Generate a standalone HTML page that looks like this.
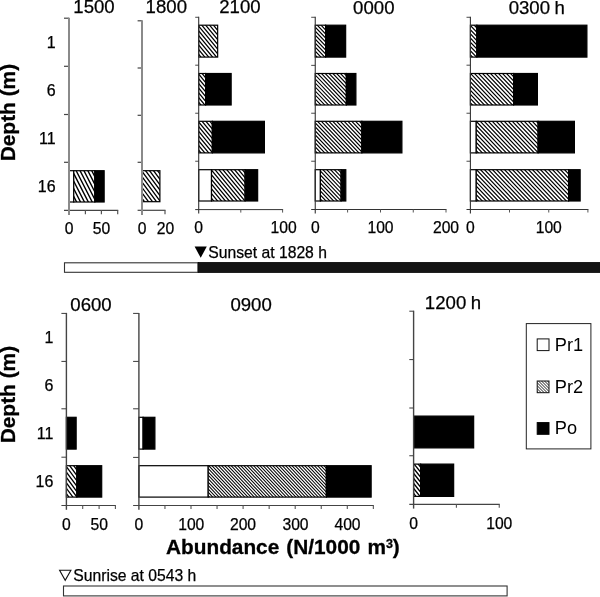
<!DOCTYPE html>
<html><head><meta charset="utf-8"><title>Figure</title>
<style>
html,body{margin:0;padding:0;background:#fff;}
body{width:600px;height:597px;overflow:hidden;}
svg{display:block;will-change:transform;font-family:"Liberation Sans",sans-serif;fill:#000;}
</style></head><body>
<svg width="600" height="597" viewBox="0 0 600 597">
<defs>
<pattern id="p1" patternUnits="userSpaceOnUse" width="3.9" height="7.6"><rect x="0" y="0" width="3.9" height="7.6" fill="#fff"/><path d="M-3.9,-7.6 L7.8,15.2 M0,-7.6 L11.7,15.2 M-7.8,-7.6 L3.9,15.2" stroke="#000" stroke-width="1.388"/></pattern>
<pattern id="p2" patternUnits="userSpaceOnUse" width="4.0" height="5.4"><rect x="0" y="0" width="4.0" height="5.4" fill="#fff"/><path d="M-4.0,-5.4 L8.0,10.8 M0,-5.4 L12.0,10.8 M-8.0,-5.4 L4.0,10.8" stroke="#000" stroke-width="1.318"/></pattern>
<pattern id="p3" patternUnits="userSpaceOnUse" width="3.9" height="4.7"><rect x="0" y="0" width="3.9" height="4.7" fill="#fff"/><path d="M-3.9,-4.7 L7.8,9.4 M0,-4.7 L11.7,9.4 M-7.8,-4.7 L3.9,9.4" stroke="#000" stroke-width="1.261"/></pattern>
<pattern id="p4" patternUnits="userSpaceOnUse" width="3.8" height="4.0"><rect x="0" y="0" width="3.8" height="4.0" fill="#fff"/><path d="M-3.8,-4.0 L7.6,8.0 M0,-4.0 L11.399999999999999,8.0 M-7.6,-4.0 L3.8,8.0" stroke="#000" stroke-width="1.157"/></pattern>
<pattern id="p5" patternUnits="userSpaceOnUse" width="4.0" height="4.2"><rect x="0" y="0" width="4.0" height="4.2" fill="#fff"/><path d="M-4.0,-4.2 L8.0,8.4 M0,-4.2 L12.0,8.4 M-8.0,-4.2 L4.0,8.4" stroke="#000" stroke-width="1.188"/></pattern>
<pattern id="p6" patternUnits="userSpaceOnUse" width="4.0" height="5.4"><rect x="0" y="0" width="4.0" height="5.4" fill="#fff"/><path d="M-4.0,-5.4 L8.0,10.8 M0,-5.4 L12.0,10.8 M-8.0,-5.4 L4.0,10.8" stroke="#000" stroke-width="1.318"/></pattern>
<pattern id="p7" patternUnits="userSpaceOnUse" width="3.2" height="3.4"><rect x="0" y="0" width="3.2" height="3.4" fill="#fff"/><path d="M-3.2,-3.4 L6.4,6.8 M0,-3.4 L9.600000000000001,6.8 M-6.4,-3.4 L3.2,6.8" stroke="#000" stroke-width="1.025"/></pattern>
<pattern id="p8" patternUnits="userSpaceOnUse" width="4.0" height="5.0"><rect x="0" y="0" width="4.0" height="5.0" fill="#fff"/><path d="M-4.0,-5.0 L8.0,10.0 M0,-5.0 L12.0,10.0 M-8.0,-5.0 L4.0,10.0" stroke="#000" stroke-width="1.281"/></pattern>
<pattern id="lg" patternUnits="userSpaceOnUse" width="3.0" height="3.0"><rect x="0" y="0" width="3.0" height="3.0" fill="#fff"/><path d="M-3.0,-3.0 L6.0,6.0 M0,-3.0 L9.0,6.0 M-6.0,-3.0 L3.0,6.0" stroke="#000" stroke-width="0.891"/></pattern>
</defs>
<rect x="0" y="0" width="600" height="597" fill="#fff"/>

<line x1="64.00" y1="18.20" x2="69.00" y2="18.20" stroke="#444" stroke-width="1.2"/>
<line x1="64.00" y1="66.30" x2="69.00" y2="66.30" stroke="#444" stroke-width="1.2"/>
<line x1="64.00" y1="114.50" x2="69.00" y2="114.50" stroke="#444" stroke-width="1.2"/>
<line x1="64.00" y1="162.30" x2="69.00" y2="162.30" stroke="#444" stroke-width="1.2"/>
<line x1="64.00" y1="210.30" x2="118.20" y2="210.30" stroke="#444" stroke-width="1.2"/>
<line x1="85.40" y1="210.30" x2="85.40" y2="214.30" stroke="#555" stroke-width="1.2"/>
<line x1="101.40" y1="210.30" x2="101.40" y2="214.30" stroke="#555" stroke-width="1.2"/>
<line x1="117.70" y1="210.30" x2="117.70" y2="214.30" stroke="#555" stroke-width="1.2"/>
<rect x="69.00" y="170.70" width="4.75" height="31.30" fill="#fff" stroke="#000" stroke-width="1.2"/>
<clipPath id="c1"><rect x="73.75" y="170.70" width="21.10" height="31.30"/></clipPath>
<rect x="73.75" y="170.70" width="21.10" height="31.30" fill="#fff"/>
<path clip-path="url(#c1)" d="M51.74,168.70l18.11,35.30M55.64,168.70l18.11,35.30M59.54,168.70l18.11,35.30M63.44,168.70l18.11,35.30M67.34,168.70l18.11,35.30M71.24,168.70l18.11,35.30M75.14,168.70l18.11,35.30M79.04,168.70l18.11,35.30M82.94,168.70l18.11,35.30M86.84,168.70l18.11,35.30M90.74,168.70l18.11,35.30M94.64,168.70l18.11,35.30M98.54,168.70l18.11,35.30" stroke="#000" stroke-width="1.388" fill="none"/>
<rect x="73.75" y="170.70" width="21.10" height="31.30" fill="none" stroke="#000" stroke-width="1.2"/>
<rect x="94.85" y="170.70" width="9.30" height="31.30" fill="#000" stroke="#000" stroke-width="1.2"/>
<line x1="69.00" y1="17.70" x2="69.00" y2="215.00" stroke="#8a8a8a" stroke-width="2.0"/>
<text x="69.0" y="234.0" font-size="15.7" text-anchor="middle" font-weight="normal" stroke="#000" stroke-width="0.25" >0</text>
<text x="101.5" y="234.0" font-size="15.7" text-anchor="middle" font-weight="normal" stroke="#000" stroke-width="0.25" >50</text>
<text x="94" y="12.6" font-size="18.6" text-anchor="middle" font-weight="normal" stroke="#000" stroke-width="0.25" word-spacing="-0.6">1500</text>
<line x1="137.60" y1="20.80" x2="142.00" y2="20.80" stroke="#444" stroke-width="1.2"/>
<line x1="137.60" y1="68.00" x2="142.00" y2="68.00" stroke="#444" stroke-width="1.2"/>
<line x1="137.60" y1="115.30" x2="142.00" y2="115.30" stroke="#444" stroke-width="1.2"/>
<line x1="137.60" y1="162.30" x2="142.00" y2="162.30" stroke="#444" stroke-width="1.2"/>
<line x1="137.60" y1="210.30" x2="165.50" y2="210.30" stroke="#444" stroke-width="1.2"/>
<line x1="165.00" y1="210.30" x2="165.00" y2="214.30" stroke="#555" stroke-width="1.2"/>
<clipPath id="c2"><rect x="142.00" y="170.70" width="17.90" height="31.00"/></clipPath>
<rect x="142.00" y="170.70" width="17.90" height="31.00" fill="#fff"/>
<path clip-path="url(#c2)" d="M112.07,168.70l25.93,35.00M116.07,168.70l25.93,35.00M120.07,168.70l25.93,35.00M124.07,168.70l25.93,35.00M128.07,168.70l25.93,35.00M132.07,168.70l25.93,35.00M136.07,168.70l25.93,35.00M140.07,168.70l25.93,35.00M144.07,168.70l25.93,35.00M148.07,168.70l25.93,35.00M152.07,168.70l25.93,35.00M156.07,168.70l25.93,35.00M160.07,168.70l25.93,35.00" stroke="#000" stroke-width="1.318" fill="none"/>
<rect x="142.00" y="170.70" width="17.90" height="31.00" fill="none" stroke="#000" stroke-width="1.2"/>
<line x1="142.00" y1="20.30" x2="142.00" y2="215.00" stroke="#8a8a8a" stroke-width="2.0"/>
<text x="142" y="234.0" font-size="15.7" text-anchor="middle" font-weight="normal" stroke="#000" stroke-width="0.25" >0</text>
<text x="165.5" y="234.0" font-size="15.7" text-anchor="middle" font-weight="normal" stroke="#000" stroke-width="0.25" >20</text>
<text x="166.3" y="12.6" font-size="18.6" text-anchor="middle" font-weight="normal" stroke="#000" stroke-width="0.25" word-spacing="-0.6">1800</text>
<line x1="195.20" y1="17.30" x2="198.70" y2="17.30" stroke="#5a5a5a" stroke-width="1.1"/>
<line x1="195.20" y1="65.20" x2="198.70" y2="65.20" stroke="#5a5a5a" stroke-width="1.1"/>
<line x1="195.20" y1="113.25" x2="198.70" y2="113.25" stroke="#5a5a5a" stroke-width="1.1"/>
<line x1="195.20" y1="161.25" x2="198.70" y2="161.25" stroke="#5a5a5a" stroke-width="1.1"/>
<line x1="195.20" y1="209.60" x2="283.10" y2="209.60" stroke="#333" stroke-width="1.0"/>
<line x1="240.80" y1="209.60" x2="240.80" y2="212.60" stroke="#555" stroke-width="1.0"/>
<line x1="282.60" y1="209.60" x2="282.60" y2="212.60" stroke="#555" stroke-width="1.0"/>
<clipPath id="c3"><rect x="198.70" y="25.20" width="18.95" height="31.90"/></clipPath>
<rect x="198.70" y="25.20" width="18.95" height="31.90" fill="#fff"/>
<path clip-path="url(#c3)" d="M165.01,23.20l29.79,35.90M168.91,23.20l29.79,35.90M172.81,23.20l29.79,35.90M176.71,23.20l29.79,35.90M180.61,23.20l29.79,35.90M184.51,23.20l29.79,35.90M188.41,23.20l29.79,35.90M192.31,23.20l29.79,35.90M196.21,23.20l29.79,35.90M200.11,23.20l29.79,35.90M204.01,23.20l29.79,35.90M207.91,23.20l29.79,35.90M211.81,23.20l29.79,35.90M215.71,23.20l29.79,35.90M219.61,23.20l29.79,35.90" stroke="#000" stroke-width="1.261" fill="none"/>
<rect x="198.70" y="25.20" width="18.95" height="31.90" fill="none" stroke="#000" stroke-width="1.2"/>
<clipPath id="c4"><rect x="198.70" y="73.50" width="6.90" height="31.50"/></clipPath>
<rect x="198.70" y="73.50" width="6.90" height="31.50" fill="#fff"/>
<path clip-path="url(#c4)" d="M165.34,71.50l29.46,35.50M169.24,71.50l29.46,35.50M173.14,71.50l29.46,35.50M177.04,71.50l29.46,35.50M180.94,71.50l29.46,35.50M184.84,71.50l29.46,35.50M188.74,71.50l29.46,35.50M192.64,71.50l29.46,35.50M196.54,71.50l29.46,35.50M200.44,71.50l29.46,35.50M204.34,71.50l29.46,35.50M208.24,71.50l29.46,35.50" stroke="#000" stroke-width="1.261" fill="none"/>
<rect x="198.70" y="73.50" width="6.90" height="31.50" fill="none" stroke="#000" stroke-width="1.2"/>
<rect x="205.60" y="73.50" width="25.55" height="31.50" fill="#000" stroke="#000" stroke-width="1.2"/>
<clipPath id="c5"><rect x="198.70" y="121.30" width="13.65" height="31.60"/></clipPath>
<rect x="198.70" y="121.30" width="13.65" height="31.60" fill="#fff"/>
<path clip-path="url(#c5)" d="M165.26,119.30l29.54,35.60M169.16,119.30l29.54,35.60M173.06,119.30l29.54,35.60M176.96,119.30l29.54,35.60M180.86,119.30l29.54,35.60M184.76,119.30l29.54,35.60M188.66,119.30l29.54,35.60M192.56,119.30l29.54,35.60M196.46,119.30l29.54,35.60M200.36,119.30l29.54,35.60M204.26,119.30l29.54,35.60M208.16,119.30l29.54,35.60M212.06,119.30l29.54,35.60M215.96,119.30l29.54,35.60" stroke="#000" stroke-width="1.261" fill="none"/>
<rect x="198.70" y="121.30" width="13.65" height="31.60" fill="none" stroke="#000" stroke-width="1.2"/>
<rect x="212.35" y="121.30" width="52.05" height="31.60" fill="#000" stroke="#000" stroke-width="1.2"/>
<rect x="198.70" y="169.70" width="12.80" height="31.30" fill="#fff" stroke="#000" stroke-width="1.2"/>
<clipPath id="c6"><rect x="211.50" y="169.70" width="33.60" height="31.30"/></clipPath>
<rect x="211.50" y="169.70" width="33.60" height="31.30" fill="#fff"/>
<path clip-path="url(#c6)" d="M178.31,167.70l29.29,35.30M182.21,167.70l29.29,35.30M186.11,167.70l29.29,35.30M190.01,167.70l29.29,35.30M193.91,167.70l29.29,35.30M197.81,167.70l29.29,35.30M201.71,167.70l29.29,35.30M205.61,167.70l29.29,35.30M209.51,167.70l29.29,35.30M213.41,167.70l29.29,35.30M217.31,167.70l29.29,35.30M221.21,167.70l29.29,35.30M225.11,167.70l29.29,35.30M229.01,167.70l29.29,35.30M232.91,167.70l29.29,35.30M236.81,167.70l29.29,35.30M240.71,167.70l29.29,35.30M244.61,167.70l29.29,35.30M248.51,167.70l29.29,35.30" stroke="#000" stroke-width="1.261" fill="none"/>
<rect x="211.50" y="169.70" width="33.60" height="31.30" fill="none" stroke="#000" stroke-width="1.2"/>
<rect x="245.10" y="169.70" width="12.55" height="31.30" fill="#000" stroke="#000" stroke-width="1.2"/>
<line x1="198.70" y1="16.80" x2="198.70" y2="213.60" stroke="#333" stroke-width="1.1"/>
<text x="198.7" y="233.4" font-size="15.7" text-anchor="middle" font-weight="normal" stroke="#000" stroke-width="0.25" >0</text>
<text x="283.6" y="233.4" font-size="15.7" text-anchor="middle" font-weight="normal" stroke="#000" stroke-width="0.25" >100</text>
<text x="239.9" y="13.0" font-size="18.6" text-anchor="middle" font-weight="normal" stroke="#000" stroke-width="0.25" word-spacing="-0.6">2100</text>
<line x1="311.20" y1="17.30" x2="315.25" y2="17.30" stroke="#5a5a5a" stroke-width="1.1"/>
<line x1="311.20" y1="65.40" x2="315.25" y2="65.40" stroke="#5a5a5a" stroke-width="1.1"/>
<line x1="311.20" y1="113.25" x2="315.25" y2="113.25" stroke="#5a5a5a" stroke-width="1.1"/>
<line x1="311.20" y1="161.25" x2="315.25" y2="161.25" stroke="#5a5a5a" stroke-width="1.1"/>
<line x1="311.20" y1="209.50" x2="446.50" y2="209.50" stroke="#333" stroke-width="1.0"/>
<line x1="347.60" y1="209.50" x2="347.60" y2="212.50" stroke="#555" stroke-width="1.0"/>
<line x1="380.50" y1="209.50" x2="380.50" y2="212.50" stroke="#555" stroke-width="1.0"/>
<line x1="413.25" y1="209.50" x2="413.25" y2="212.50" stroke="#555" stroke-width="1.0"/>
<line x1="446.00" y1="209.50" x2="446.00" y2="212.50" stroke="#555" stroke-width="1.0"/>
<clipPath id="c7"><rect x="315.25" y="25.20" width="10.35" height="31.90"/></clipPath>
<rect x="315.25" y="25.20" width="10.35" height="31.90" fill="#fff"/>
<path clip-path="url(#c7)" d="M277.34,23.20l34.11,35.90M281.14,23.20l34.11,35.90M284.94,23.20l34.11,35.90M288.75,23.20l34.11,35.90M292.55,23.20l34.11,35.90M296.35,23.20l34.11,35.90M300.15,23.20l34.11,35.90M303.95,23.20l34.11,35.90M307.75,23.20l34.11,35.90M311.55,23.20l34.11,35.90M315.35,23.20l34.11,35.90M319.15,23.20l34.11,35.90M322.95,23.20l34.11,35.90M326.75,23.20l34.11,35.90" stroke="#000" stroke-width="1.157" fill="none"/>
<rect x="315.25" y="25.20" width="10.35" height="31.90" fill="none" stroke="#000" stroke-width="1.2"/>
<rect x="325.60" y="25.20" width="20.05" height="31.90" fill="#000" stroke="#000" stroke-width="1.2"/>
<clipPath id="c8"><rect x="315.25" y="73.50" width="31.10" height="31.50"/></clipPath>
<rect x="315.25" y="73.50" width="31.10" height="31.50" fill="#fff"/>
<path clip-path="url(#c8)" d="M277.72,71.50l33.73,35.50M281.52,71.50l33.73,35.50M285.32,71.50l33.73,35.50M289.12,71.50l33.73,35.50M292.93,71.50l33.73,35.50M296.73,71.50l33.73,35.50M300.53,71.50l33.73,35.50M304.33,71.50l33.73,35.50M308.13,71.50l33.73,35.50M311.93,71.50l33.73,35.50M315.73,71.50l33.73,35.50M319.53,71.50l33.73,35.50M323.33,71.50l33.73,35.50M327.13,71.50l33.73,35.50M330.93,71.50l33.73,35.50M334.73,71.50l33.73,35.50M338.53,71.50l33.73,35.50M342.33,71.50l33.73,35.50M346.13,71.50l33.73,35.50M349.93,71.50l33.73,35.50" stroke="#000" stroke-width="1.157" fill="none"/>
<rect x="315.25" y="73.50" width="31.10" height="31.50" fill="none" stroke="#000" stroke-width="1.2"/>
<rect x="346.35" y="73.50" width="9.55" height="31.50" fill="#000" stroke="#000" stroke-width="1.2"/>
<clipPath id="c9"><rect x="315.25" y="121.30" width="46.60" height="31.60"/></clipPath>
<rect x="315.25" y="121.30" width="46.60" height="31.60" fill="#fff"/>
<path clip-path="url(#c9)" d="M277.63,119.30l33.82,35.60M281.43,119.30l33.82,35.60M285.23,119.30l33.82,35.60M289.03,119.30l33.82,35.60M292.83,119.30l33.82,35.60M296.63,119.30l33.82,35.60M300.43,119.30l33.82,35.60M304.23,119.30l33.82,35.60M308.03,119.30l33.82,35.60M311.83,119.30l33.82,35.60M315.63,119.30l33.82,35.60M319.43,119.30l33.82,35.60M323.23,119.30l33.82,35.60M327.03,119.30l33.82,35.60M330.83,119.30l33.82,35.60M334.63,119.30l33.82,35.60M338.43,119.30l33.82,35.60M342.23,119.30l33.82,35.60M346.03,119.30l33.82,35.60M349.83,119.30l33.82,35.60M353.63,119.30l33.82,35.60M357.43,119.30l33.82,35.60M361.23,119.30l33.82,35.60M365.03,119.30l33.82,35.60" stroke="#000" stroke-width="1.157" fill="none"/>
<rect x="315.25" y="121.30" width="46.60" height="31.60" fill="none" stroke="#000" stroke-width="1.2"/>
<rect x="361.85" y="121.30" width="40.05" height="31.60" fill="#000" stroke="#000" stroke-width="1.2"/>
<rect x="315.25" y="169.70" width="5.15" height="31.30" fill="#fff" stroke="#000" stroke-width="1.2"/>
<clipPath id="c10"><rect x="320.40" y="169.70" width="20.70" height="31.30"/></clipPath>
<rect x="320.40" y="169.70" width="20.70" height="31.30" fill="#fff"/>
<path clip-path="url(#c10)" d="M283.06,167.70l33.54,35.30M286.86,167.70l33.54,35.30M290.66,167.70l33.54,35.30M294.46,167.70l33.54,35.30M298.26,167.70l33.54,35.30M302.06,167.70l33.54,35.30M305.87,167.70l33.54,35.30M309.67,167.70l33.54,35.30M313.47,167.70l33.54,35.30M317.27,167.70l33.54,35.30M321.07,167.70l33.54,35.30M324.87,167.70l33.54,35.30M328.67,167.70l33.54,35.30M332.47,167.70l33.54,35.30M336.27,167.70l33.54,35.30M340.07,167.70l33.54,35.30M343.87,167.70l33.54,35.30" stroke="#000" stroke-width="1.157" fill="none"/>
<rect x="320.40" y="169.70" width="20.70" height="31.30" fill="none" stroke="#000" stroke-width="1.2"/>
<rect x="341.10" y="169.70" width="4.70" height="31.30" fill="#000" stroke="#000" stroke-width="1.2"/>
<line x1="315.25" y1="16.80" x2="315.25" y2="213.50" stroke="#333" stroke-width="1.1"/>
<text x="315.25" y="233.4" font-size="15.7" text-anchor="middle" font-weight="normal" stroke="#000" stroke-width="0.25" >0</text>
<text x="380.5" y="233.4" font-size="15.7" text-anchor="middle" font-weight="normal" stroke="#000" stroke-width="0.25" >100</text>
<text x="446" y="233.4" font-size="15.7" text-anchor="middle" font-weight="normal" stroke="#000" stroke-width="0.25" >200</text>
<text x="373.8" y="13.9" font-size="18.6" text-anchor="middle" font-weight="normal" stroke="#000" stroke-width="0.25" word-spacing="-0.6">0000</text>
<line x1="466.50" y1="17.30" x2="470.40" y2="17.30" stroke="#5a5a5a" stroke-width="1.1"/>
<line x1="466.50" y1="65.20" x2="470.40" y2="65.20" stroke="#5a5a5a" stroke-width="1.1"/>
<line x1="466.50" y1="113.25" x2="470.40" y2="113.25" stroke="#5a5a5a" stroke-width="1.1"/>
<line x1="466.50" y1="161.25" x2="470.40" y2="161.25" stroke="#5a5a5a" stroke-width="1.1"/>
<line x1="466.50" y1="209.50" x2="588.40" y2="209.50" stroke="#333" stroke-width="1.0"/>
<line x1="509.50" y1="209.50" x2="509.50" y2="212.50" stroke="#555" stroke-width="1.0"/>
<line x1="548.75" y1="209.50" x2="548.75" y2="212.50" stroke="#555" stroke-width="1.0"/>
<line x1="587.90" y1="209.50" x2="587.90" y2="212.50" stroke="#555" stroke-width="1.0"/>
<clipPath id="c11"><rect x="470.40" y="25.20" width="6.45" height="31.90"/></clipPath>
<rect x="470.40" y="25.20" width="6.45" height="31.90" fill="#fff"/>
<path clip-path="url(#c11)" d="M432.21,23.20l34.19,35.90M436.21,23.20l34.19,35.90M440.21,23.20l34.19,35.90M444.21,23.20l34.19,35.90M448.21,23.20l34.19,35.90M452.21,23.20l34.19,35.90M456.21,23.20l34.19,35.90M460.21,23.20l34.19,35.90M464.21,23.20l34.19,35.90M468.21,23.20l34.19,35.90M472.21,23.20l34.19,35.90M476.21,23.20l34.19,35.90M480.21,23.20l34.19,35.90" stroke="#000" stroke-width="1.188" fill="none"/>
<rect x="470.40" y="25.20" width="6.45" height="31.90" fill="none" stroke="#000" stroke-width="1.2"/>
<rect x="476.85" y="25.20" width="110.05" height="31.90" fill="#000" stroke="#000" stroke-width="1.2"/>
<clipPath id="c12"><rect x="470.40" y="73.50" width="43.20" height="31.50"/></clipPath>
<rect x="470.40" y="73.50" width="43.20" height="31.50" fill="#fff"/>
<path clip-path="url(#c12)" d="M432.59,71.50l33.81,35.50M436.59,71.50l33.81,35.50M440.59,71.50l33.81,35.50M444.59,71.50l33.81,35.50M448.59,71.50l33.81,35.50M452.59,71.50l33.81,35.50M456.59,71.50l33.81,35.50M460.59,71.50l33.81,35.50M464.59,71.50l33.81,35.50M468.59,71.50l33.81,35.50M472.59,71.50l33.81,35.50M476.59,71.50l33.81,35.50M480.59,71.50l33.81,35.50M484.59,71.50l33.81,35.50M488.59,71.50l33.81,35.50M492.59,71.50l33.81,35.50M496.59,71.50l33.81,35.50M500.59,71.50l33.81,35.50M504.59,71.50l33.81,35.50M508.59,71.50l33.81,35.50M512.59,71.50l33.81,35.50M516.59,71.50l33.81,35.50" stroke="#000" stroke-width="1.188" fill="none"/>
<rect x="470.40" y="73.50" width="43.20" height="31.50" fill="none" stroke="#000" stroke-width="1.2"/>
<rect x="513.60" y="73.50" width="23.80" height="31.50" fill="#000" stroke="#000" stroke-width="1.2"/>
<rect x="470.40" y="121.30" width="5.85" height="31.60" fill="#fff" stroke="#000" stroke-width="1.2"/>
<clipPath id="c13"><rect x="476.25" y="121.30" width="61.85" height="31.60"/></clipPath>
<rect x="476.25" y="121.30" width="61.85" height="31.60" fill="#fff"/>
<path clip-path="url(#c13)" d="M438.35,119.30l33.90,35.60M442.35,119.30l33.90,35.60M446.35,119.30l33.90,35.60M450.35,119.30l33.90,35.60M454.35,119.30l33.90,35.60M458.35,119.30l33.90,35.60M462.35,119.30l33.90,35.60M466.35,119.30l33.90,35.60M470.35,119.30l33.90,35.60M474.35,119.30l33.90,35.60M478.35,119.30l33.90,35.60M482.35,119.30l33.90,35.60M486.35,119.30l33.90,35.60M490.35,119.30l33.90,35.60M494.35,119.30l33.90,35.60M498.35,119.30l33.90,35.60M502.35,119.30l33.90,35.60M506.35,119.30l33.90,35.60M510.35,119.30l33.90,35.60M514.35,119.30l33.90,35.60M518.35,119.30l33.90,35.60M522.35,119.30l33.90,35.60M526.35,119.30l33.90,35.60M530.35,119.30l33.90,35.60M534.35,119.30l33.90,35.60M538.35,119.30l33.90,35.60" stroke="#000" stroke-width="1.188" fill="none"/>
<rect x="476.25" y="121.30" width="61.85" height="31.60" fill="none" stroke="#000" stroke-width="1.2"/>
<rect x="538.10" y="121.30" width="36.30" height="31.60" fill="#000" stroke="#000" stroke-width="1.2"/>
<rect x="470.40" y="169.70" width="5.85" height="31.30" fill="#fff" stroke="#000" stroke-width="1.2"/>
<clipPath id="c14"><rect x="476.25" y="169.70" width="92.35" height="31.30"/></clipPath>
<rect x="476.25" y="169.70" width="92.35" height="31.30" fill="#fff"/>
<path clip-path="url(#c14)" d="M438.63,167.70l33.62,35.30M442.63,167.70l33.62,35.30M446.63,167.70l33.62,35.30M450.63,167.70l33.62,35.30M454.63,167.70l33.62,35.30M458.63,167.70l33.62,35.30M462.63,167.70l33.62,35.30M466.63,167.70l33.62,35.30M470.63,167.70l33.62,35.30M474.63,167.70l33.62,35.30M478.63,167.70l33.62,35.30M482.63,167.70l33.62,35.30M486.63,167.70l33.62,35.30M490.63,167.70l33.62,35.30M494.63,167.70l33.62,35.30M498.63,167.70l33.62,35.30M502.63,167.70l33.62,35.30M506.63,167.70l33.62,35.30M510.63,167.70l33.62,35.30M514.63,167.70l33.62,35.30M518.63,167.70l33.62,35.30M522.63,167.70l33.62,35.30M526.63,167.70l33.62,35.30M530.63,167.70l33.62,35.30M534.63,167.70l33.62,35.30M538.63,167.70l33.62,35.30M542.63,167.70l33.62,35.30M546.63,167.70l33.62,35.30M550.63,167.70l33.62,35.30M554.63,167.70l33.62,35.30M558.63,167.70l33.62,35.30M562.63,167.70l33.62,35.30M566.63,167.70l33.62,35.30M570.63,167.70l33.62,35.30" stroke="#000" stroke-width="1.188" fill="none"/>
<rect x="476.25" y="169.70" width="92.35" height="31.30" fill="none" stroke="#000" stroke-width="1.2"/>
<rect x="568.60" y="169.70" width="11.55" height="31.30" fill="#000" stroke="#000" stroke-width="1.2"/>
<line x1="470.40" y1="16.80" x2="470.40" y2="213.50" stroke="#333" stroke-width="1.1"/>
<text x="470.4" y="233.4" font-size="15.7" text-anchor="middle" font-weight="normal" stroke="#000" stroke-width="0.25" >0</text>
<text x="548.75" y="233.4" font-size="15.7" text-anchor="middle" font-weight="normal" stroke="#000" stroke-width="0.25" >100</text>
<text x="536.8" y="14.4" font-size="18.6" text-anchor="middle" font-weight="normal" stroke="#000" stroke-width="0.25" word-spacing="-0.6">0300 h</text>
<text x="55.6" y="47.5" font-size="16.0" text-anchor="end" font-weight="normal" stroke="#000" stroke-width="0.25" >1</text>
<text x="55.6" y="95.5" font-size="16.0" text-anchor="end" font-weight="normal" stroke="#000" stroke-width="0.25" >6</text>
<text x="55.6" y="143.5" font-size="16.0" text-anchor="end" font-weight="normal" stroke="#000" stroke-width="0.25" >11</text>
<text x="55.6" y="191.9" font-size="16.0" text-anchor="end" font-weight="normal" stroke="#000" stroke-width="0.25" >16</text>
<text transform="translate(15.2,112.6) rotate(-90)" font-size="20.9" font-weight="bold" stroke="#000" stroke-width="0.3" text-anchor="middle">Depth (m)</text>
<polygon points="194.6,246.6 206.8,246.6 200.7,257.8" fill="#000"/>
<text x="208.3" y="257.7" font-size="15.7" text-anchor="start" font-weight="normal" stroke="#000" stroke-width="0.25" >Sunset at 1828 h</text>
<rect x="64.50" y="262.80" width="133.60" height="9.50" fill="#fff" stroke="#333" stroke-width="1.1"/>
<rect x="198.10" y="262.50" width="402.50" height="9.90" fill="#141414" stroke="#000" stroke-width="0.8"/>
<line x1="61.40" y1="313.40" x2="66.40" y2="313.40" stroke="#3a3a3a" stroke-width="1.0"/>
<line x1="61.40" y1="361.40" x2="66.40" y2="361.40" stroke="#3a3a3a" stroke-width="1.0"/>
<line x1="61.40" y1="408.80" x2="66.40" y2="408.80" stroke="#3a3a3a" stroke-width="1.0"/>
<line x1="61.40" y1="457.20" x2="66.40" y2="457.20" stroke="#3a3a3a" stroke-width="1.0"/>
<line x1="61.40" y1="505.50" x2="115.90" y2="505.50" stroke="#444" stroke-width="1.2"/>
<line x1="82.70" y1="505.50" x2="82.70" y2="508.90" stroke="#555" stroke-width="1.1"/>
<line x1="99.10" y1="505.50" x2="99.10" y2="508.90" stroke="#555" stroke-width="1.1"/>
<line x1="115.40" y1="505.50" x2="115.40" y2="508.90" stroke="#555" stroke-width="1.1"/>
<rect x="66.40" y="417.30" width="9.75" height="31.80" fill="#000" stroke="#000" stroke-width="1.2"/>
<clipPath id="c15"><rect x="66.40" y="465.70" width="10.45" height="31.40"/></clipPath>
<rect x="66.40" y="465.70" width="10.45" height="31.40" fill="#fff"/>
<path clip-path="url(#c15)" d="M36.18,463.70l26.22,35.40M40.18,463.70l26.22,35.40M44.18,463.70l26.22,35.40M48.18,463.70l26.22,35.40M52.18,463.70l26.22,35.40M56.18,463.70l26.22,35.40M60.18,463.70l26.22,35.40M64.18,463.70l26.22,35.40M68.18,463.70l26.22,35.40M72.18,463.70l26.22,35.40M76.18,463.70l26.22,35.40M80.18,463.70l26.22,35.40" stroke="#000" stroke-width="1.318" fill="none"/>
<rect x="66.40" y="465.70" width="10.45" height="31.40" fill="none" stroke="#000" stroke-width="1.2"/>
<rect x="76.85" y="465.70" width="24.85" height="31.40" fill="#000" stroke="#000" stroke-width="1.2"/>
<line x1="66.40" y1="312.90" x2="66.40" y2="509.80" stroke="#444" stroke-width="1.4"/>
<text x="66.4" y="529.5" font-size="15.7" text-anchor="middle" font-weight="normal" stroke="#000" stroke-width="0.25" >0</text>
<text x="99.25" y="529.5" font-size="15.7" text-anchor="middle" font-weight="normal" stroke="#000" stroke-width="0.25" >50</text>
<text x="91" y="310.5" font-size="18.6" text-anchor="middle" font-weight="normal" stroke="#000" stroke-width="0.25" word-spacing="-0.6">0600</text>
<line x1="133.10" y1="313.40" x2="138.90" y2="313.40" stroke="#3a3a3a" stroke-width="1.0"/>
<line x1="133.10" y1="361.40" x2="138.90" y2="361.40" stroke="#3a3a3a" stroke-width="1.0"/>
<line x1="133.10" y1="408.80" x2="138.90" y2="408.80" stroke="#3a3a3a" stroke-width="1.0"/>
<line x1="133.10" y1="457.40" x2="138.90" y2="457.40" stroke="#3a3a3a" stroke-width="1.0"/>
<line x1="133.10" y1="505.50" x2="373.85" y2="505.50" stroke="#444" stroke-width="1.2"/>
<line x1="164.95" y1="505.50" x2="164.95" y2="508.90" stroke="#555" stroke-width="1.1"/>
<line x1="191.00" y1="505.50" x2="191.00" y2="508.90" stroke="#555" stroke-width="1.1"/>
<line x1="217.05" y1="505.50" x2="217.05" y2="508.90" stroke="#555" stroke-width="1.1"/>
<line x1="243.10" y1="505.50" x2="243.10" y2="508.90" stroke="#555" stroke-width="1.1"/>
<line x1="269.15" y1="505.50" x2="269.15" y2="508.90" stroke="#555" stroke-width="1.1"/>
<line x1="295.20" y1="505.50" x2="295.20" y2="508.90" stroke="#555" stroke-width="1.1"/>
<line x1="321.25" y1="505.50" x2="321.25" y2="508.90" stroke="#555" stroke-width="1.1"/>
<line x1="347.30" y1="505.50" x2="347.30" y2="508.90" stroke="#555" stroke-width="1.1"/>
<line x1="373.35" y1="505.50" x2="373.35" y2="508.90" stroke="#555" stroke-width="1.1"/>
<rect x="138.90" y="417.30" width="4.20" height="31.80" fill="#fff" stroke="#000" stroke-width="1.2"/>
<rect x="143.10" y="417.30" width="11.80" height="31.80" fill="#000" stroke="#000" stroke-width="1.2"/>
<rect x="138.90" y="465.70" width="69.30" height="31.40" fill="#fff" stroke="#000" stroke-width="1.2"/>
<clipPath id="c16"><rect x="208.20" y="465.70" width="118.15" height="31.40"/></clipPath>
<rect x="208.20" y="465.70" width="118.15" height="31.40" fill="#fff"/>
<path clip-path="url(#c16)" d="M171.68,463.70l33.32,35.40M174.88,463.70l33.32,35.40M178.08,463.70l33.32,35.40M181.28,463.70l33.32,35.40M184.48,463.70l33.32,35.40M187.68,463.70l33.32,35.40M190.88,463.70l33.32,35.40M194.08,463.70l33.32,35.40M197.28,463.70l33.32,35.40M200.48,463.70l33.32,35.40M203.68,463.70l33.32,35.40M206.88,463.70l33.32,35.40M210.08,463.70l33.32,35.40M213.28,463.70l33.32,35.40M216.48,463.70l33.32,35.40M219.68,463.70l33.32,35.40M222.88,463.70l33.32,35.40M226.08,463.70l33.32,35.40M229.28,463.70l33.32,35.40M232.48,463.70l33.32,35.40M235.68,463.70l33.32,35.40M238.88,463.70l33.32,35.40M242.08,463.70l33.32,35.40M245.28,463.70l33.32,35.40M248.48,463.70l33.32,35.40M251.68,463.70l33.32,35.40M254.88,463.70l33.32,35.40M258.08,463.70l33.32,35.40M261.28,463.70l33.32,35.40M264.48,463.70l33.32,35.40M267.68,463.70l33.32,35.40M270.88,463.70l33.32,35.40M274.08,463.70l33.32,35.40M277.28,463.70l33.32,35.40M280.48,463.70l33.32,35.40M283.68,463.70l33.32,35.40M286.88,463.70l33.32,35.40M290.08,463.70l33.32,35.40M293.28,463.70l33.32,35.40M296.48,463.70l33.32,35.40M299.68,463.70l33.32,35.40M302.88,463.70l33.32,35.40M306.08,463.70l33.32,35.40M309.28,463.70l33.32,35.40M312.48,463.70l33.32,35.40M315.68,463.70l33.32,35.40M318.88,463.70l33.32,35.40M322.08,463.70l33.32,35.40M325.28,463.70l33.32,35.40M328.48,463.70l33.32,35.40" stroke="#000" stroke-width="1.025" fill="none"/>
<rect x="208.20" y="465.70" width="118.15" height="31.40" fill="none" stroke="#000" stroke-width="1.2"/>
<rect x="326.35" y="465.70" width="44.80" height="31.40" fill="#000" stroke="#000" stroke-width="1.2"/>
<line x1="138.90" y1="312.90" x2="138.90" y2="509.80" stroke="#444" stroke-width="1.4"/>
<text x="138.9" y="529.5" font-size="15.7" text-anchor="middle" font-weight="normal" stroke="#000" stroke-width="0.25" >0</text>
<text x="191.25" y="529.5" font-size="15.7" text-anchor="middle" font-weight="normal" stroke="#000" stroke-width="0.25" >100</text>
<text x="243" y="529.5" font-size="15.7" text-anchor="middle" font-weight="normal" stroke="#000" stroke-width="0.25" >200</text>
<text x="295.5" y="529.5" font-size="15.7" text-anchor="middle" font-weight="normal" stroke="#000" stroke-width="0.25" >300</text>
<text x="347.5" y="529.5" font-size="15.7" text-anchor="middle" font-weight="normal" stroke="#000" stroke-width="0.25" >400</text>
<text x="251.1" y="310.6" font-size="18.6" text-anchor="middle" font-weight="normal" stroke="#000" stroke-width="0.25" word-spacing="-0.6">0900</text>
<line x1="409.30" y1="311.20" x2="413.60" y2="311.20" stroke="#3a3a3a" stroke-width="1.0"/>
<line x1="409.30" y1="359.60" x2="413.60" y2="359.60" stroke="#3a3a3a" stroke-width="1.0"/>
<line x1="409.30" y1="408.00" x2="413.60" y2="408.00" stroke="#3a3a3a" stroke-width="1.0"/>
<line x1="409.30" y1="455.75" x2="413.60" y2="455.75" stroke="#3a3a3a" stroke-width="1.0"/>
<line x1="409.30" y1="504.30" x2="499.75" y2="504.30" stroke="#444" stroke-width="1.2"/>
<line x1="456.40" y1="504.30" x2="456.40" y2="507.70" stroke="#555" stroke-width="1.1"/>
<line x1="499.25" y1="504.30" x2="499.25" y2="507.70" stroke="#555" stroke-width="1.1"/>
<rect x="413.60" y="416.10" width="60.05" height="31.80" fill="#000" stroke="#000" stroke-width="1.2"/>
<clipPath id="c17"><rect x="413.60" y="464.10" width="7.00" height="32.30"/></clipPath>
<rect x="413.60" y="464.10" width="7.00" height="32.30" fill="#fff"/>
<path clip-path="url(#c17)" d="M380.56,462.10l29.04,36.30M384.56,462.10l29.04,36.30M388.56,462.10l29.04,36.30M392.56,462.10l29.04,36.30M396.56,462.10l29.04,36.30M400.56,462.10l29.04,36.30M404.56,462.10l29.04,36.30M408.56,462.10l29.04,36.30M412.56,462.10l29.04,36.30M416.56,462.10l29.04,36.30M420.56,462.10l29.04,36.30M424.56,462.10l29.04,36.30" stroke="#000" stroke-width="1.281" fill="none"/>
<rect x="413.60" y="464.10" width="7.00" height="32.30" fill="none" stroke="#000" stroke-width="1.2"/>
<rect x="420.60" y="464.10" width="33.05" height="32.30" fill="#000" stroke="#000" stroke-width="1.2"/>
<line x1="413.60" y1="310.70" x2="413.60" y2="508.60" stroke="#444" stroke-width="1.4"/>
<text x="413.6" y="528.6" font-size="15.7" text-anchor="middle" font-weight="normal" stroke="#000" stroke-width="0.25" >0</text>
<text x="499.25" y="528.6" font-size="15.7" text-anchor="middle" font-weight="normal" stroke="#000" stroke-width="0.25" >100</text>
<text x="453" y="309.3" font-size="18.6" text-anchor="middle" font-weight="normal" stroke="#000" stroke-width="0.25" word-spacing="-0.6">1200 h</text>
<text x="53.3" y="342.6" font-size="16.0" text-anchor="end" font-weight="normal" stroke="#000" stroke-width="0.25" >1</text>
<text x="53.3" y="390.6" font-size="16.0" text-anchor="end" font-weight="normal" stroke="#000" stroke-width="0.25" >6</text>
<text x="53.3" y="438.6" font-size="16.0" text-anchor="end" font-weight="normal" stroke="#000" stroke-width="0.25" >11</text>
<text x="53.3" y="486.6" font-size="16.0" text-anchor="end" font-weight="normal" stroke="#000" stroke-width="0.25" >16</text>
<text transform="translate(15.2,394.6) rotate(-90)" font-size="20.9" font-weight="bold" stroke="#000" stroke-width="0.3" text-anchor="middle">Depth (m)</text>
<text x="166" y="553.5" font-size="20.8" font-weight="bold" stroke="#000" stroke-width="0.3" word-spacing="1.3" text-anchor="start">Abundance (N/1000 m<tspan font-size="12.5" dy="-5.5">3</tspan><tspan dy="5.5">)</tspan></text>
<rect x="526.30" y="323.60" width="64.60" height="125.30" fill="#fff" stroke="#222" stroke-width="1.0"/>
<rect x="537.20" y="338.90" width="11.80" height="11.70" fill="#fff" stroke="#111" stroke-width="1.0"/>
<clipPath id="c18"><rect x="537.20" y="381.00" width="11.80" height="11.70"/></clipPath>
<rect x="537.20" y="381.00" width="11.80" height="11.70" fill="#fff"/>
<path clip-path="url(#c18)" d="M518.50,379.00l15.70,15.70M521.50,379.00l15.70,15.70M524.50,379.00l15.70,15.70M527.50,379.00l15.70,15.70M530.50,379.00l15.70,15.70M533.50,379.00l15.70,15.70M536.50,379.00l15.70,15.70M539.50,379.00l15.70,15.70M542.50,379.00l15.70,15.70M545.50,379.00l15.70,15.70M548.50,379.00l15.70,15.70M551.50,379.00l15.70,15.70" stroke="#000" stroke-width="0.891" fill="none"/>
<rect x="537.20" y="381.00" width="11.80" height="11.70" fill="none" stroke="#111" stroke-width="1.0"/>
<rect x="537.20" y="422.60" width="11.80" height="11.70" fill="#000" stroke="#000" stroke-width="1.0"/>
<text x="554.8" y="350.9" font-size="18.2" text-anchor="start" font-weight="normal" stroke="#000" stroke-width="0" >Pr1</text>
<text x="554.8" y="392.6" font-size="18.2" text-anchor="start" font-weight="normal" stroke="#000" stroke-width="0" >Pr2</text>
<text x="554.8" y="434.2" font-size="18.2" text-anchor="start" font-weight="normal" stroke="#000" stroke-width="0" >Po</text>
<polygon points="59.6,570.3 70.9,570.3 65.2,580.3" fill="#fff" stroke="#111" stroke-width="1.1"/>
<text x="73.3" y="580.7" font-size="15.7" text-anchor="start" font-weight="normal" stroke="#000" stroke-width="0.25" >Sunrise at 0543 h</text>
<rect x="63.50" y="586.00" width="443.60" height="9.90" fill="#fff" stroke="#333" stroke-width="1.1"/>
</svg></body></html>
